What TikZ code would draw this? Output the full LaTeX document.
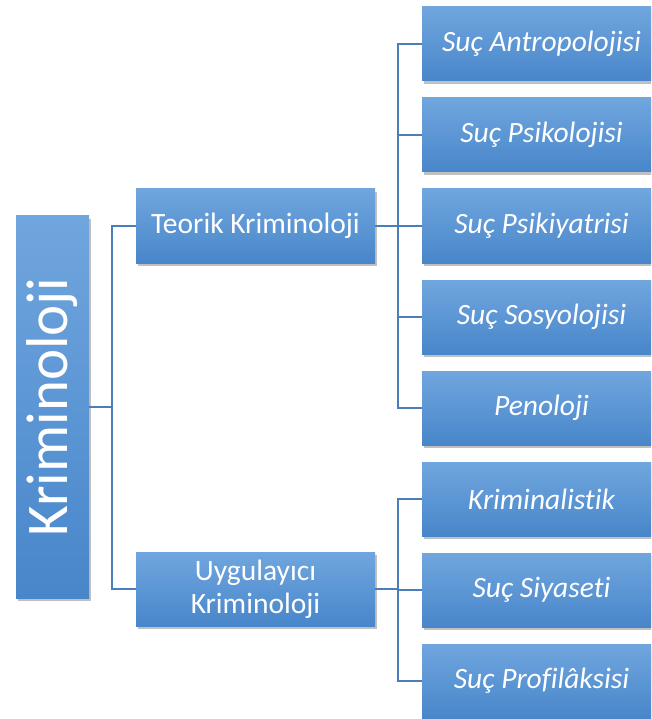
\documentclass[tikz,border=0pt]{standalone}
\usepackage{fontspec}
\setmainfont{Carlito}[RawFeature={-liga}]
\usepackage{graphicx}
\usetikzlibrary{shadows}
\definecolor{boxtop}{RGB}{112,166,222}
\definecolor{boxbot}{RGB}{72,134,202}
\definecolor{linec}{RGB}{74,126,187}
\tikzset{
  box/.style={draw=none, top color=boxtop, bottom color=boxbot, text=white,
    inner sep=0pt, minimum width=239pt, minimum height=74pt, align=center,
    font=\fontsize{29.5}{33}\selectfont,
    drop shadow={shadow xshift=1.5pt, shadow yshift=-3pt, opacity=0.35, fill=black!70}},
  leaf/.style={box, font=\fontsize{29.5}{33}\selectfont\itshape},
  conn/.style={draw=linec, line width=1.6pt}
}
\begin{document}
\begin{tikzpicture}[x=1pt, y=-1pt]
\useasboundingbox (0,0) rectangle (651,719);
\clip (0,0) rectangle (651,719);
\fill[white] (0,0) rectangle (651,719);
% nodes
\node[box, minimum width=73pt, minimum height=382pt, font=\fontsize{59}{62}\selectfont] (root) at (52.5,407) {\rotatebox{90}{Kriminoloji}};
\node[box] (teo) at (255.5,226) {Teorik Kriminoloji};
\node[box] (uyg) at (255.5,589) {Uygulayıcı\\Kriminoloji};
\node[leaf] (r1) at (541.5,44) {Suç Antropolojisi};
\node[leaf] (r2) at (541.5,135) {Suç Psikolojisi};
\node[leaf] (r3) at (541.5,226) {Suç Psikiyatrisi};
\node[leaf] (r4) at (541.5,317) {Suç Sosyolojisi};
\node[leaf] (r5) at (541.5,408) {Penoloji};
\node[leaf] (r6) at (541.5,499) {Kriminalistik};
\node[leaf] (r7) at (541.5,590) {Suç Siyaseti};
\node[leaf] (r8) at (541.5,681) {Suç Profilâksisi};
% connectors
\draw[conn] (root.east) -- ++(23,0) coordinate (j0) |- (teo.west);
\draw[conn] (j0) |- (uyg.west);
\draw[conn] (teo.east) -- ++(23,0) coordinate (j1) |- (r1.west);
\foreach \n in {r2,r3,r4,r5} \draw[conn] (j1) |- (\n.west);
\draw[conn] (uyg.east) -- ++(23,0) coordinate (j2) |- (r6.west);
\foreach \n in {r7,r8} \draw[conn] (j2) |- (\n.west);
\end{tikzpicture}
\end{document}
